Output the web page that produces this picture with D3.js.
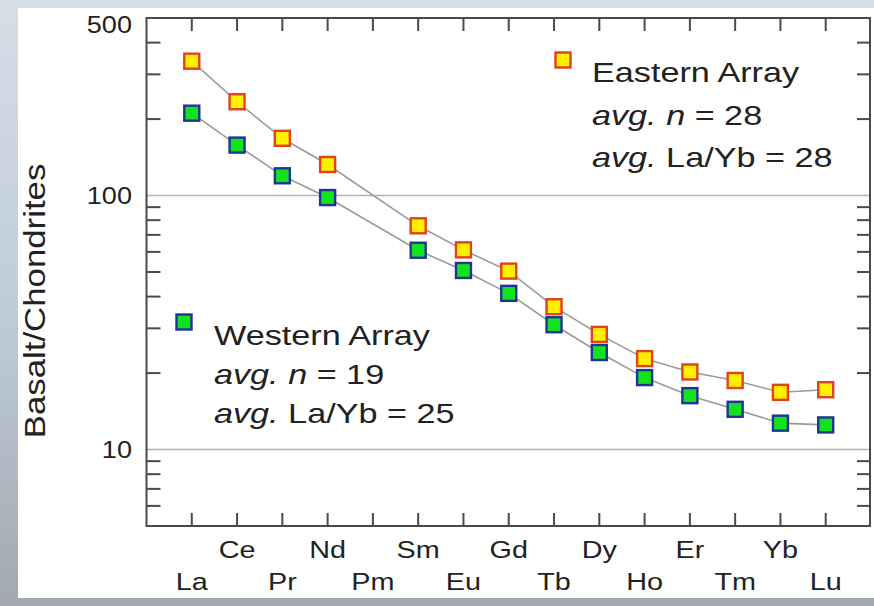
<!DOCTYPE html>
<html>
<head>
<meta charset="utf-8">
<script src="https://cdn.jsdelivr.net/npm/d3@7"></script>
<style>
  html, body { margin: 0; padding: 0; background: #fff; }
  svg { display: block; }
  text { font-family: "Liberation Sans", Arial, Helvetica, sans-serif; fill: #222; }
</style>
</head>
<body>
<svg id="chart" width="874" height="606"></svg>
<script>
// ---- data ----
const elements = ["La","Ce","Pr","Nd","Pm","Sm","Eu","Gd","Tb","Dy","Ho","Er","Tm","Yb","Lu"];
const easternValues = [338, 234, 168, 132.5, null, 76, 61.1, 50.4, 36.5, 28.4, 22.8, 20.2, 18.7, 16.8, 17.2];
const westernValues = [211, 158, 119.6, 98.2, null, 60.9, 50.7, 41.2, 31.0, 24.1, 19.2, 16.3, 14.4, 12.7, 12.5];
const yDomain = [5, 500];
const yLabelTicks = [500, 100, 10];
const yGridTicks = [100, 10];
const yMinorTicks = [6, 7, 8, 9, 20, 30, 40, 50, 60, 70, 80, 90, 200, 300, 400];
const yTitle = "Basalt/Chondrites";
const easternLegend = ["Eastern Array", "28", "28"];
const westernLegend = ["Western Array", "19", "25"];

// ---- layout ----
const W = 874, H = 606;
const plot = { left: 146.5, right: 870, top: 18, bottom: 526 };
const SX = 1.2; // horizontal glyph stretch seen in the reference

const svg = d3.select("#chart");

// background
const defs = svg.append("defs");
const grad = defs.append("linearGradient").attr("id", "bgGrad").attr("x1", 0).attr("y1", 0).attr("x2", 0).attr("y2", 1);
grad.append("stop").attr("offset", "0%").attr("stop-color", "#d6dee7");
grad.append("stop").attr("offset", "55%").attr("stop-color", "#bccad8");
grad.append("stop").attr("offset", "100%").attr("stop-color", "#a2a8ae");
svg.append("rect").attr("width", W).attr("height", H).attr("fill", "url(#bgGrad)");
svg.append("rect").attr("x", 18).attr("y", 8).attr("width", W - 18).attr("height", 590).attr("fill", "#ffffff");

const x = d3.scalePoint().domain(elements).range([plot.left, plot.right + 1]).padding(1);
const y = d3.scaleLog().domain(yDomain).range([plot.bottom, plot.top]);

// helper for stretched text
function stext(g, tx, ty, size, anchor, rotate) {
  const t = g.append("text")
    .attr("transform", `translate(${tx},${ty})` + (rotate ? ` rotate(${rotate})` : "") + ` scale(${SX},1)`)
    .attr("font-size", size)
    .attr("text-anchor", anchor || "start");
  return t;
}

// gridlines
svg.append("g").selectAll("line").data(yGridTicks).join("line")
  .attr("x1", plot.left).attr("x2", plot.right)
  .attr("y1", d => y(d)).attr("y2", d => y(d))
  .attr("stroke", "#b3b3b3").attr("stroke-width", 1.6);

// ticks
const tickColor = "#4a4a4a";
const tg = svg.append("g").attr("stroke", tickColor).attr("stroke-width", 2);
tg.selectAll(".ml").data(yMinorTicks).join("line")
  .attr("x1", plot.left).attr("x2", plot.left + 14)
  .attr("y1", d => y(d)).attr("y2", d => y(d));
tg.selectAll(".mr").data(yMinorTicks).join("line").attr("class", "mr")
  .attr("x1", plot.right - 13).attr("x2", plot.right)
  .attr("y1", d => y(d)).attr("y2", d => y(d));
tg.selectAll(".xb").data(elements).join("line").attr("class", "xb")
  .attr("x1", d => x(d)).attr("x2", d => x(d))
  .attr("y1", plot.bottom).attr("y2", plot.bottom - 13);
tg.selectAll(".xt").data(elements).join("line").attr("class", "xt")
  .attr("x1", d => x(d)).attr("x2", d => x(d))
  .attr("y1", plot.top).attr("y2", plot.top + 13);

// frame
svg.append("rect")
  .attr("x", plot.left).attr("y", plot.top)
  .attr("width", plot.right - plot.left).attr("height", plot.bottom - plot.top)
  .attr("fill", "none").attr("stroke", "#4a4a4a").attr("stroke-width", 2);

// y tick labels
const yl = svg.append("g");
yLabelTicks.forEach(v => {
  const yy = Math.max(y(v), 24);
  stext(yl, 132, yy + 8.5, 24, "end").attr("transform", `translate(132,${yy + 8.5}) scale(1.13,1)`).text(v);
});

// x labels (two rows)
const xl = svg.append("g");
elements.forEach((e, i) => {
  const row = i % 2 === 1 ? 558 : 590;
  stext(xl, x(e), row, 24, "middle").text(e);
});

// y title
stext(svg, 45, 301, 29, "middle", -90).text(yTitle);

// series
const series = [
  { name: "eastern", values: easternValues, fill: "#fff000", stroke: "#e2411f" },
  { name: "western", values: westernValues, fill: "#14e21e", stroke: "#1f3596" }
];
const line = d3.line().x(d => x(d.e)).y(d => y(d.v));
series.forEach(s => {
  const pts = elements.map((e, i) => ({ e, v: s.values[i] })).filter(d => d.v != null);
  svg.append("path").datum(pts).attr("d", line)
    .attr("fill", "none").attr("stroke", "#9a9a9a").attr("stroke-width", 1.6);
});
series.forEach(s => {
  const pts = elements.map((e, i) => ({ e, v: s.values[i] })).filter(d => d.v != null);
  svg.append("g").selectAll("rect").data(pts).join("rect")
    .attr("x", d => x(d.e) - 7.5).attr("y", d => y(d.v) - 7.5)
    .attr("width", 15).attr("height", 15)
    .attr("fill", s.fill).attr("stroke", s.stroke).attr("stroke-width", 2.4);
});

// legends
function legend(mx, my, tx, baselines, labels, s) {
  const g = svg.append("g");
  g.append("rect").attr("x", mx - 7.5).attr("y", my - 7.5).attr("width", 15).attr("height", 15)
    .attr("fill", s.fill).attr("stroke", s.stroke).attr("stroke-width", 2.4);
  stext(g, tx, baselines[0], 28.5).text(labels[0]);
  const t2 = stext(g, tx, baselines[1], 28.5);
  t2.append("tspan").attr("font-style", "italic").text("avg.");
  t2.append("tspan").text(" ");
  t2.append("tspan").attr("font-style", "italic").text("n");
  t2.append("tspan").text(" = " + labels[1]);
  const t3 = stext(g, tx, baselines[2], 28.5);
  t3.append("tspan").attr("font-style", "italic").text("avg.");
  t3.append("tspan").text(" La/Yb = " + labels[2]);
}
legend(563, 60, 592, [82, 125, 167], easternLegend, series[0]);
legend(184, 322, 214, [345, 384, 423], westernLegend, series[1]);
</script>
</body>
</html>
